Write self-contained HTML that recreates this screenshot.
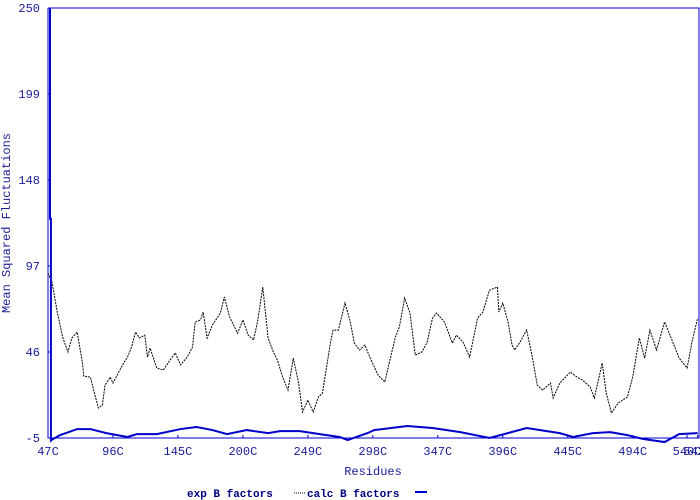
<!DOCTYPE html>
<html><head><meta charset="utf-8"><style>
body{margin:0;background:#fff;}
svg{display:block;font-family:"Liberation Mono",monospace;}
</style></head><body>
<svg id="chart" width="700" height="500">
<rect x="0" y="0" width="700" height="500" fill="#fff"/>
<g id="plot"></g>
<text x="10" y="223" transform="rotate(-90 10 223)" text-anchor="middle" font-size="12" fill="#1a1a9a">Mean Squared Fluctuations</text>
<text x="373" y="475" text-anchor="middle" font-size="12" fill="#1a1a9a">Residues</text>
<g>
<text x="187" y="497" font-size="11" font-weight="bold" fill="#000080">exp B factors</text>
<line x1="294" y1="493" x2="306" y2="493" stroke="#000" stroke-dasharray="1,1"/>
<text x="307" y="497" font-size="11" font-weight="bold" fill="#000080">calc B factors</text>
<line x1="415" y1="492" x2="427" y2="492" stroke="#0000cc" stroke-width="2"/>
</g>
</svg>
<script>
const yTicks=[250,199,148,97,46,-5];
const xTickIdx=[0,49,98,147,196,245,294,343,392,441,490,482];
const xTickLabels=["47C","96C","145C","200C","249C","298C","347C","396C","445C","494C","543C","540C"];
const expIdx=[0,3,7,11,15,18,22,26,27,32,35,38,41,43,47,49,53,57,60,63,66,69,73,75,77,82,87,92,96,100,105,109,111,115,117,120,124,130,133,137,143,147,151,155,158,162,166,170,173,177,181,185,189,192,196,200,204,207,213,215,219,224,228,231,235,239,243,249,254,262,265,269,273,277,282,286,290,293,299,305,308,313,318,324,328,333,339,340,343,347,350,352,356,361,365,369,373,379,381,386,394,399,403,409,412,418,421,425,430,437,441,446,450,454,459,465,470,476,482,486,490];
const expVal=[92.8,87.5,69.7,54.9,46.0,54.3,57.8,39.4,31.7,31.1,21.7,12.8,14.5,26.4,31.1,27.6,33.5,39.4,43.0,48.9,57.8,54.3,56.0,43.0,48.3,36.5,35.3,41.2,45.4,38.3,43.0,48.9,63.8,65.0,69.7,54.3,62.0,69.1,78.6,66.7,57.2,65.0,56.0,53.1,63.8,84.5,54.3,46.0,41.2,31.1,23.4,42.4,27.6,10.4,17.5,10.4,19.3,21.7,51.3,59.0,59.0,75.0,63.8,51.3,47.2,50.1,42.4,32.3,28.2,54.9,60.8,78.0,69.1,44.2,46.0,51.9,66.1,69.1,63.8,51.3,56.0,51.9,43.0,66.1,69.7,82.7,84.5,69.7,75.0,63.8,50.1,47.2,51.9,59.0,44.2,26.4,23.4,27.6,18.7,27.6,34.1,31.1,29.4,25.2,18.7,39.4,21.7,9.8,15.7,19.3,31.1,54.3,42.4,59.0,47.2,63.8,54.3,42.4,36.5,53.1,66.1];
const calcIdx=[1.5,1.5,2.2,2.2,3,9,22,32,44,60,67,82,100,112,124,135,150,166,175,190,205,220,226,241,246,271,290,311,333,361,386,396,411,424,437,449,465,476,490];
const calcVal=[250,125,125,-6.5,-6,-3.3,0.3,0.3,-2.1,-4.4,-2.7,-2.7,0.3,1.5,-0.3,-2.7,-0.3,-2.1,-0.9,-0.9,-2.7,-4.4,-6.2,-2.1,-0.3,2.1,0.9,-1.5,-5,0.9,-2.1,-4.4,-2.1,-1.5,-3.3,-5.6,-7.4,-2.7,-2.1];
const X0=48,X1=699,Y0=438,Y1=8,NMAX=491;
const xs=i=>X0+i*(X1-X0)/NMAX;
const ys=v=>Y0-(v+5)*(Y0-Y1)/255;
const NS="http://www.w3.org/2000/svg";
const plot=document.getElementById('plot');
function mk(t,a){const e=document.createElementNS(NS,t);for(const k in a)e.setAttribute(k,a[k]);plot.appendChild(e);return e;}
let ax=mk('path',{d:`M${X0},${Y1}V${Y0}H${X1}V${Y1}H${X0}`,fill:'none',stroke:'#0000cc','stroke-width':1});


yTicks.forEach(v=>{
 const t=mk('text',{x:40,y:ys(v)+4,'text-anchor':'end','font-size':12,fill:'#1a1a9a'});t.textContent=v;
 
 
 const l=mk('line',{x1:X0,x2:X0+3,y1:ys(v),y2:ys(v),stroke:'#0000cc'});
 
 
});
xTickIdx.forEach((i,k)=>{
 const t=mk('text',{x:xs(i),y:455,'text-anchor':'middle','font-size':12,fill:'#1a1a9a'});t.textContent=xTickLabels[k];
 
 
 const l=mk('line',{x1:xs(i),x2:xs(i),y1:Y0-3,y2:Y0,stroke:'#0000cc'});
 
 
});
const pe=mk('polyline',{points:expIdx.map((i,k)=>xs(i)+','+ys(expVal[k])).join(' '),fill:'none',stroke:'#000','stroke-width':1,'stroke-dasharray':'2,1'});


const pc=mk('polyline',{points:calcIdx.map((i,k)=>xs(i)+','+ys(calcVal[k])).join(' '),fill:'none',stroke:'#0000cc','stroke-width':2});


</script>
</body></html>
